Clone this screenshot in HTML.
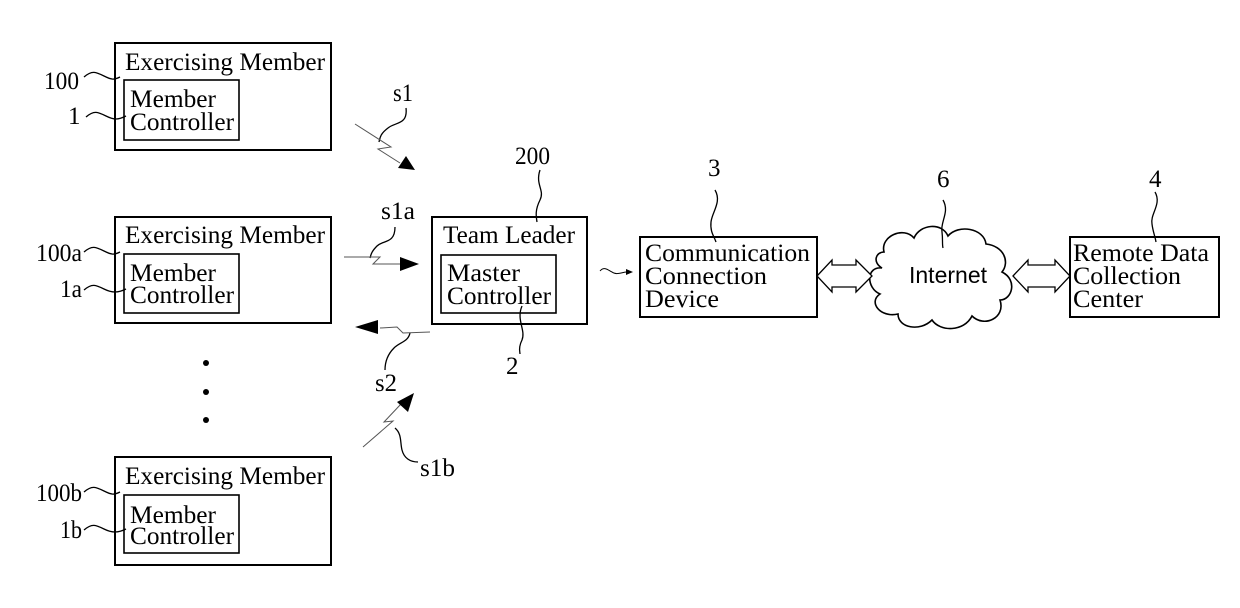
<!DOCTYPE html>
<html><head><meta charset="utf-8"><style>
html,body{margin:0;padding:0;background:#fff;}
svg{display:block;}
text{font-family:"Liberation Serif",serif;font-size:25px;fill:#000;}
</style></head><body>
<svg width="1240" height="608" viewBox="0 0 1240 608" xmlns="http://www.w3.org/2000/svg">
<g fill="none" stroke="#000" stroke-width="2">
<rect x="115" y="43" width="216" height="107"/>
<rect x="124" y="80" width="115" height="60" stroke-width="1.6"/>
<rect x="115" y="217" width="216" height="106"/>
<rect x="124" y="254" width="115" height="59" stroke-width="1.6"/>
<rect x="115" y="457" width="216" height="108"/>
<rect x="124" y="495" width="115" height="58" stroke-width="1.6"/>
<rect x="432" y="217" width="155" height="107"/>
<rect x="441" y="255" width="115" height="58" stroke-width="1.6"/>
<rect x="640" y="237" width="177" height="80"/>
<rect x="1070" y="237" width="149" height="80"/>
</g>
<!-- cloud -->
<path d="M884,252 C880,236 904,226 914,238 C920,224 942,222 948,236 C958,224 984,228 986,244 C1004,246 1010,262 1002,272 C1018,280 1012,300 1000,300 C1006,318 984,328 972,316 C964,332 940,332 932,320 C920,332 898,328 898,314 C880,318 868,302 880,294 C866,288 866,266 882,268 C872,262 876,252 884,252 Z" fill="#fff" stroke="#000" stroke-width="1.6"/>
<g fill="#fff" stroke="#000" stroke-width="1.3">
<path d="M817,276 L832,260 L832,265 L856,265 L856,260 L872,276 L856,292 L856,287 L832,287 L832,292 Z"/>
<path d="M1013,276 L1028,260 L1028,265 L1055,265 L1055,260 L1070,276 L1055,292 L1055,287 L1028,287 L1028,292 Z"/>
</g>
<g fill="none" stroke="#000" stroke-width="1.3">
<path d="M84,77 C92,70 96,72 104,76 C112,80 114,80 120,77"/>
<path d="M86,117 C94,110 98,112 106,116 C114,120 118,120 126,116"/>
<path d="M84,252 C92,245 96,247 104,251 C112,255 114,255 120,252"/>
<path d="M84,290 C92,283 96,285 104,289 C112,293 118,293 126,289"/>
<path d="M84,492 C92,485 96,487 104,491 C112,495 114,495 120,492"/>
<path d="M84,530 C92,523 96,525 104,529 C112,533 118,533 126,529"/>
<path d="M406,108 C408,125 395,122 388,128 C380,134 380,138 379,142"/>
<path d="M395,227 C395,244 383,240 377,246 C371,252 371,255 370,258"/>
<path d="M410,333 C408,342 400,342 394,348 C388,354 385,362 385,370"/>
<path d="M395,428 C402,434 400,442 402,450 C404,458 410,462 418,462"/>
<path d="M540,170 C535,185 545,190 540,200 C535,210 536,216 537,222"/>
<path d="M522,306 C516,320 526,330 522,340 C518,348 520,352 520,354"/>
<path d="M715,190 C722,202 712,212 711,222 C710,232 714,236 716,242"/>
<path d="M943,200 C950,212 940,222 942,232 C943,240 942,244 943,248"/>
<path d="M1155,192 C1162,204 1150,214 1152,224 C1153,232 1155,236 1156,242"/>
<path d="M600,271 C604,266 608,270 612,272 C616,275 620,273 626,272" stroke-width="1"/>
</g>
<path d="M626,269 L633,272 L626,275 Z" fill="#000"/>
<g fill="none" stroke="#555" stroke-width="1">
<polyline points="355,124 391,147 378,149 400,163"/>
<polyline points="344,257 380,257 373,264 400,264"/>
<polyline points="430,332 403,333 397,327 380,328"/>
<polyline points="363,447 393,421 384,422 401,404"/>
</g>
<g fill="#000">
<polygon points="415,170 398,168 406,156"/>
<polygon points="419,264 400,257 400,271"/>
<polygon points="355,327 378,320 378,334"/>
<polygon points="414,393 397,402 408,412"/>
</g>
<circle cx="206" cy="363" r="3" fill="#000"/>
<circle cx="206" cy="392" r="3" fill="#000"/>
<circle cx="206" cy="420" r="3" fill="#000"/>
<text x="125" y="70" textLength="200" lengthAdjust="spacingAndGlyphs">Exercising Member</text>
<text x="130" y="107" textLength="86" lengthAdjust="spacingAndGlyphs">Member</text>
<text x="130" y="130" textLength="104" lengthAdjust="spacingAndGlyphs">Controller</text>
<text x="125" y="243" textLength="200" lengthAdjust="spacingAndGlyphs">Exercising Member</text>
<text x="130" y="281" textLength="86" lengthAdjust="spacingAndGlyphs">Member</text>
<text x="130" y="303" textLength="104" lengthAdjust="spacingAndGlyphs">Controller</text>
<text x="125" y="484" textLength="200" lengthAdjust="spacingAndGlyphs">Exercising Member</text>
<text x="130" y="523" textLength="86" lengthAdjust="spacingAndGlyphs">Member</text>
<text x="130" y="544" textLength="104" lengthAdjust="spacingAndGlyphs">Controller</text>
<text x="44" y="89" textLength="35" lengthAdjust="spacingAndGlyphs">100</text>
<text x="68" y="124">1</text>
<text x="36" y="261" textLength="46" lengthAdjust="spacingAndGlyphs">100a</text>
<text x="60" y="297" textLength="22" lengthAdjust="spacingAndGlyphs">1a</text>
<text x="36" y="501" textLength="46" lengthAdjust="spacingAndGlyphs">100b</text>
<text x="60" y="538" textLength="22" lengthAdjust="spacingAndGlyphs">1b</text>
<text x="393" y="101" textLength="20" lengthAdjust="spacingAndGlyphs">s1</text>
<text x="381" y="219" textLength="34" lengthAdjust="spacingAndGlyphs">s1a</text>
<text x="375" y="391" textLength="22" lengthAdjust="spacingAndGlyphs">s2</text>
<text x="420" y="476" textLength="35" lengthAdjust="spacingAndGlyphs">s1b</text>
<text x="515" y="164" textLength="35" lengthAdjust="spacingAndGlyphs">200</text>
<text x="506" y="374">2</text>
<text x="708" y="176">3</text>
<text x="937" y="187">6</text>
<text x="1149" y="187">4</text>
<text x="443" y="243" textLength="132" lengthAdjust="spacingAndGlyphs">Team Leader</text>
<text x="447" y="281" textLength="73" lengthAdjust="spacingAndGlyphs">Master</text>
<text x="447" y="304" textLength="104" lengthAdjust="spacingAndGlyphs">Controller</text>
<text x="645" y="261" textLength="165" lengthAdjust="spacingAndGlyphs">Communication</text>
<text x="645" y="284" textLength="122" lengthAdjust="spacingAndGlyphs">Connection</text>
<text x="645" y="307" textLength="74" lengthAdjust="spacingAndGlyphs">Device</text>
<text x="909" y="283" textLength="78" lengthAdjust="spacingAndGlyphs" style="font-family:'Liberation Sans',sans-serif;font-size:23px">Internet</text>
<text x="1073" y="261" textLength="136" lengthAdjust="spacingAndGlyphs">Remote Data</text>
<text x="1073" y="284" textLength="108" lengthAdjust="spacingAndGlyphs">Collection</text>
<text x="1073" y="307" textLength="70" lengthAdjust="spacingAndGlyphs">Center</text>
</svg>
</body></html>
